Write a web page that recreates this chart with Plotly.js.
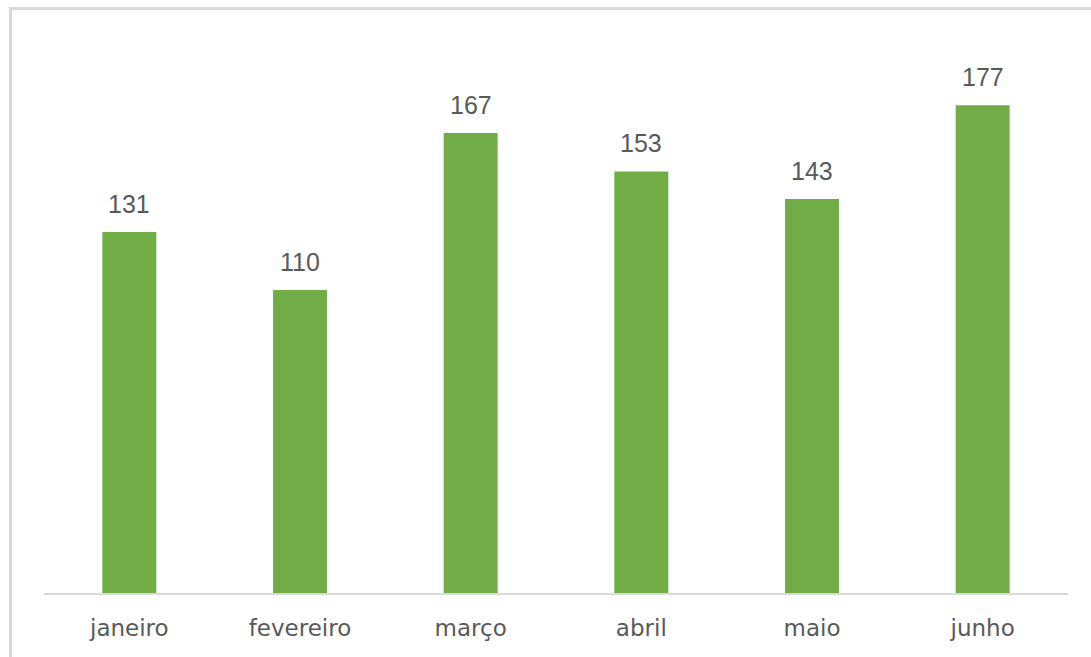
<!DOCTYPE html>
<html>
<head>
<meta charset="utf-8">
<script src="https://cdn.plot.ly/plotly-3.0.1.min.js"></script>
<style>
  html, body { margin: 0; padding: 0; background: #ffffff; overflow: hidden; }
  #chart { position: absolute; left: 0; top: 0; width: 1091px; height: 657px; }
  #frame { position: absolute; left: 9px; top: 7px; width: 1200px; height: 800px;
           border: 3px solid #d9d9d9; box-sizing: border-box; pointer-events: none; }
</style>
</head>
<body>
<div id="chart"></div>
<div id="frame"></div>
<script>
const months = ["janeiro", "fevereiro", "março", "abril", "maio", "junho"];
const values = [131, 110, 167, 153, 143, 177];

const barColor = "#70AD47";
const textColor = "#595959";

const trace = {
  type: "bar",
  x: months,
  y: values,
  marker: { color: barColor },
  width: 0.316,
  hoverinfo: "x+y"
};

const annotations = months.map((m, i) => ({
  x: m,
  y: values[i],
  xref: "x",
  yref: "y",
  text: String(values[i]),
  showarrow: false,
  yanchor: "bottom",
  yshift: 12,
  font: { family: "Liberation Sans Narrow, Liberation Sans, sans-serif", size: 25, color: textColor }
}));

const layout = {
  width: 1091,
  height: 657,
  margin: { l: 43.5, r: 22.5, t: 42, b: 63.5 },
  paper_bgcolor: "#ffffff",
  plot_bgcolor: "#ffffff",
  showlegend: false,
  xaxis: {
    type: "category",
    range: [-0.5, 5.5],
    showline: true,
    linecolor: "#d9d9d9",
    linewidth: 2,
    showgrid: false,
    zeroline: false,
    ticks: "",
    ticklabelstandoff: 13,
    tickfont: { family: "DejaVu Sans, sans-serif", size: 23, color: textColor },
    fixedrange: true
  },
  yaxis: {
    range: [0, 200],
    visible: false,
    showgrid: false,
    zeroline: false,
    fixedrange: true
  },
  annotations: annotations
};

Plotly.newPlot("chart", [trace], layout, { displayModeBar: false, staticPlot: true });
</script>
</body>
</html>
